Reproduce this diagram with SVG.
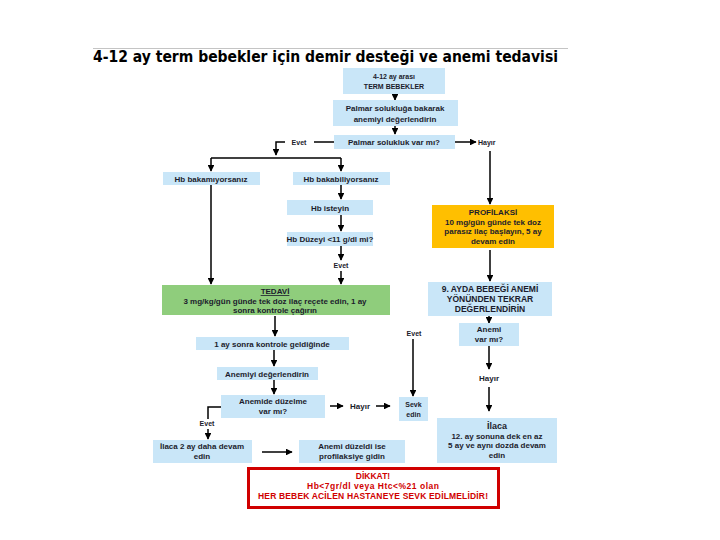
<svg xmlns="http://www.w3.org/2000/svg" width="720" height="540" viewBox="0 0 720 540">
<defs>
<marker id="ah" viewBox="0 0 10 10" refX="9" refY="5" markerWidth="4.5" markerHeight="4.5" orient="auto" markerUnits="strokeWidth"><path d="M0,0 L10,5 L0,10 z" fill="#000"/></marker>
<style>
.b{fill:#c9e6f8}
.o{fill:#ffbf00}
.g{fill:#8fcd7c}
.t{font-family:"Liberation Sans",Arial,sans-serif;font-weight:bold;font-size:8px;fill:#1c1c2c;text-anchor:middle}
.s{font-family:"Liberation Sans",Arial,sans-serif;font-weight:bold;font-size:7px;fill:#1c1c2c;text-anchor:middle}
.r{font-family:"Liberation Sans",Arial,sans-serif;font-weight:bold;font-size:8.5px;fill:#d00000;text-anchor:middle}
.c{stroke:#000;stroke-width:1.5;fill:none}
.a{stroke:#000;stroke-width:1.5;fill:none;marker-end:url(#ah)}
</style>
</defs>
<rect width="720" height="540" fill="#fff"/>
<line x1="93" y1="48.5" x2="568" y2="48.5" stroke="#c4c4c4" stroke-width="1"/>
<text x="93" y="62" font-family="DejaVu Sans,Verdana,sans-serif" font-weight="bold" font-size="15" fill="#000" textLength="465" lengthAdjust="spacingAndGlyphs">4-12 ay term bebekler için demir desteği ve anemi tedavisi</text>

<g id="connectors">
<line class="a" x1="395" y1="94" x2="395" y2="100"/>
<line class="a" x1="395" y1="126" x2="395" y2="134"/>
<polyline class="c" points="334,142 314,142"/>
<polyline class="a" points="285,142 276,142 276,155"/>
<polyline class="c" points="211,158 341,158"/>
<line class="a" x1="211" y1="158" x2="211" y2="171"/>
<line class="a" x1="341" y1="158" x2="341" y2="171"/>
<line class="a" x1="455" y1="142" x2="476" y2="142"/>
<line class="a" x1="490" y1="151" x2="490" y2="204"/>
<line class="a" x1="341" y1="185" x2="341" y2="199"/>
<line class="a" x1="341" y1="215" x2="341" y2="231"/>
<line class="a" x1="341" y1="246" x2="341" y2="260"/>
<line class="a" x1="341" y1="271" x2="341" y2="284"/>
<line class="a" x1="211" y1="185" x2="211" y2="284"/>
<line class="a" x1="275" y1="316" x2="275" y2="336"/>
<line class="a" x1="274" y1="350" x2="274" y2="366"/>
<line class="a" x1="274" y1="380" x2="274" y2="394"/>
<line class="a" x1="330" y1="406" x2="343" y2="406"/>
<line class="a" x1="376" y1="406" x2="390" y2="406"/>
<line class="a" x1="413" y1="339" x2="413" y2="396"/>
<polyline class="c" points="221,407 208,407 208,419"/>
<line class="a" x1="208" y1="429" x2="208" y2="439"/>
<line class="a" x1="262" y1="452" x2="292" y2="452"/>
<line class="a" x1="490" y1="250" x2="490" y2="281"/>
<line class="a" x1="489" y1="315" x2="489" y2="323"/>
<line class="a" x1="489" y1="346" x2="489" y2="369"/>
<line class="a" x1="489" y1="387" x2="489" y2="411"/>
</g>

<g id="labels">
<text class="s" x="299" y="144.5">Evet</text>
<text class="s" x="478" y="144.5" style="text-anchor:start">Hayır</text>
<text class="s" x="341" y="268">Evet</text>
<text class="t" x="360" y="409">Hayır</text>
<text class="s" x="414" y="336">Evet</text>
<text class="s" x="207" y="426">Evet</text>
<text class="t" x="489" y="381">Hayır</text>
</g>

<g id="n1"><rect class="b" x="343" y="68" width="102" height="26"/>
<text class="s" x="394" y="78.5">4-12 ay arası</text><text class="s" x="394" y="89">TERM BEBEKLER</text></g>
<g id="n2"><rect class="b" x="333" y="100" width="125" height="26"/>
<text class="t" x="395" y="111">Palmar solukluğa bakarak</text><text class="t" x="395" y="122">anemiyi değerlendirin</text></g>
<g id="n3"><rect class="b" x="334" y="135" width="121" height="14"/>
<text class="t" x="394" y="145">Palmar solukluk var mı?</text></g>
<g id="n4"><rect class="b" x="163" y="172" width="97" height="13"/>
<text class="t" x="211" y="181.5">Hb bakamıyorsanız</text></g>
<g id="n5"><rect class="b" x="293" y="172" width="97" height="13"/>
<text class="t" x="341" y="181.5">Hb bakabiliyorsanız</text></g>
<g id="n6"><rect class="b" x="287" y="200" width="86" height="15"/>
<text class="t" x="330" y="210.5">Hb isteyin</text></g>
<g id="n7"><rect class="b" x="287" y="232" width="86" height="14"/>
<text class="t" x="330" y="242">Hb Düzeyi &lt;11 g/dl mi?</text></g>
<g id="n8"><rect class="g" x="162" y="285" width="228" height="30"/>
<text class="t" x="275" y="294" text-decoration="underline">TEDAVİ</text>
<text class="t" x="275" y="303.5">3 mg/kg/gün günde tek doz ilaç reçete edin, 1 ay</text>
<text class="t" x="275" y="312.5">sonra kontrole çağırın</text></g>
<g id="n9"><rect class="b" x="196" y="337" width="153" height="13"/>
<text class="t" x="272" y="346.5">1 ay sonra kontrole geldiğinde</text></g>
<g id="n10"><rect class="b" x="217" y="367" width="101" height="13"/>
<text class="t" x="267" y="376.5">Anemiyi değerlendirin</text></g>
<g id="n11"><rect class="b" x="221" y="395" width="104" height="23"/>
<text class="t" x="273" y="404">Anemide düzelme</text><text class="t" x="273" y="414">var mı?</text></g>
<g id="n12"><rect class="b" x="399" y="397" width="29" height="24"/>
<text class="s" x="413.5" y="406.5">Sevk</text><text class="s" x="413.5" y="416.5">edin</text></g>
<g id="n13"><rect class="b" x="153" y="440" width="99" height="23"/>
<text class="t" x="202" y="449">İlaca 2 ay daha devam</text><text class="t" x="202" y="459">edin</text></g>
<g id="n14"><rect class="b" x="299" y="440" width="106" height="23"/>
<text class="t" x="352" y="449">Anemi düzeldi ise</text><text class="t" x="352" y="459">profilaksiye gidin</text></g>
<g id="n15"><rect class="o" x="432" y="205" width="122" height="43"/>
<text class="t" x="493" y="215">PROFİLAKSİ</text>
<text class="t" x="493" y="224.5">10 mg/gün günde tek doz</text>
<text class="t" x="493" y="234">parasız ilaç başlayın, 5 ay</text>
<text class="t" x="493" y="243.5">devam edin</text></g>
<g id="n16"><rect class="b" x="428" y="282" width="124" height="34"/>
<text class="t" x="490" y="292" style="font-size:8.5px">9. AYDA BEBEĞİ ANEMİ</text>
<text class="t" x="490" y="302" style="font-size:8.5px">YÖNÜNDEN TEKRAR</text>
<text class="t" x="490" y="312" style="font-size:8.5px">DEĞERLENDİRİN</text></g>
<g id="n17"><rect class="b" x="459" y="323" width="60" height="23"/>
<text class="t" x="489" y="332">Anemi</text><text class="t" x="489" y="342">var mı?</text></g>
<g id="n18"><rect class="b" x="437" y="418" width="120" height="45"/>
<text class="t" x="497" y="428.5" style="font-size:9px">İlaca</text>
<text class="t" x="497" y="438.5">12. ay sonuna dek en az</text>
<text class="t" x="497" y="448">5 ay ve aynı dozda devam</text>
<text class="t" x="497" y="458">edin</text></g>
<g id="n19"><rect x="248.5" y="468.5" width="250" height="39" fill="#fff" stroke="#d00000" stroke-width="3"/>
<text class="r" x="373" y="479">DİKKAT!</text>
<text class="r" x="373" y="489" textLength="132">Hb&lt;7gr/dl veya Htc&lt;%21 olan</text>
<text class="r" x="373" y="499" textLength="230">HER BEBEK ACİLEN HASTANEYE SEVK EDİLMELİDİR!</text></g>
</svg>
